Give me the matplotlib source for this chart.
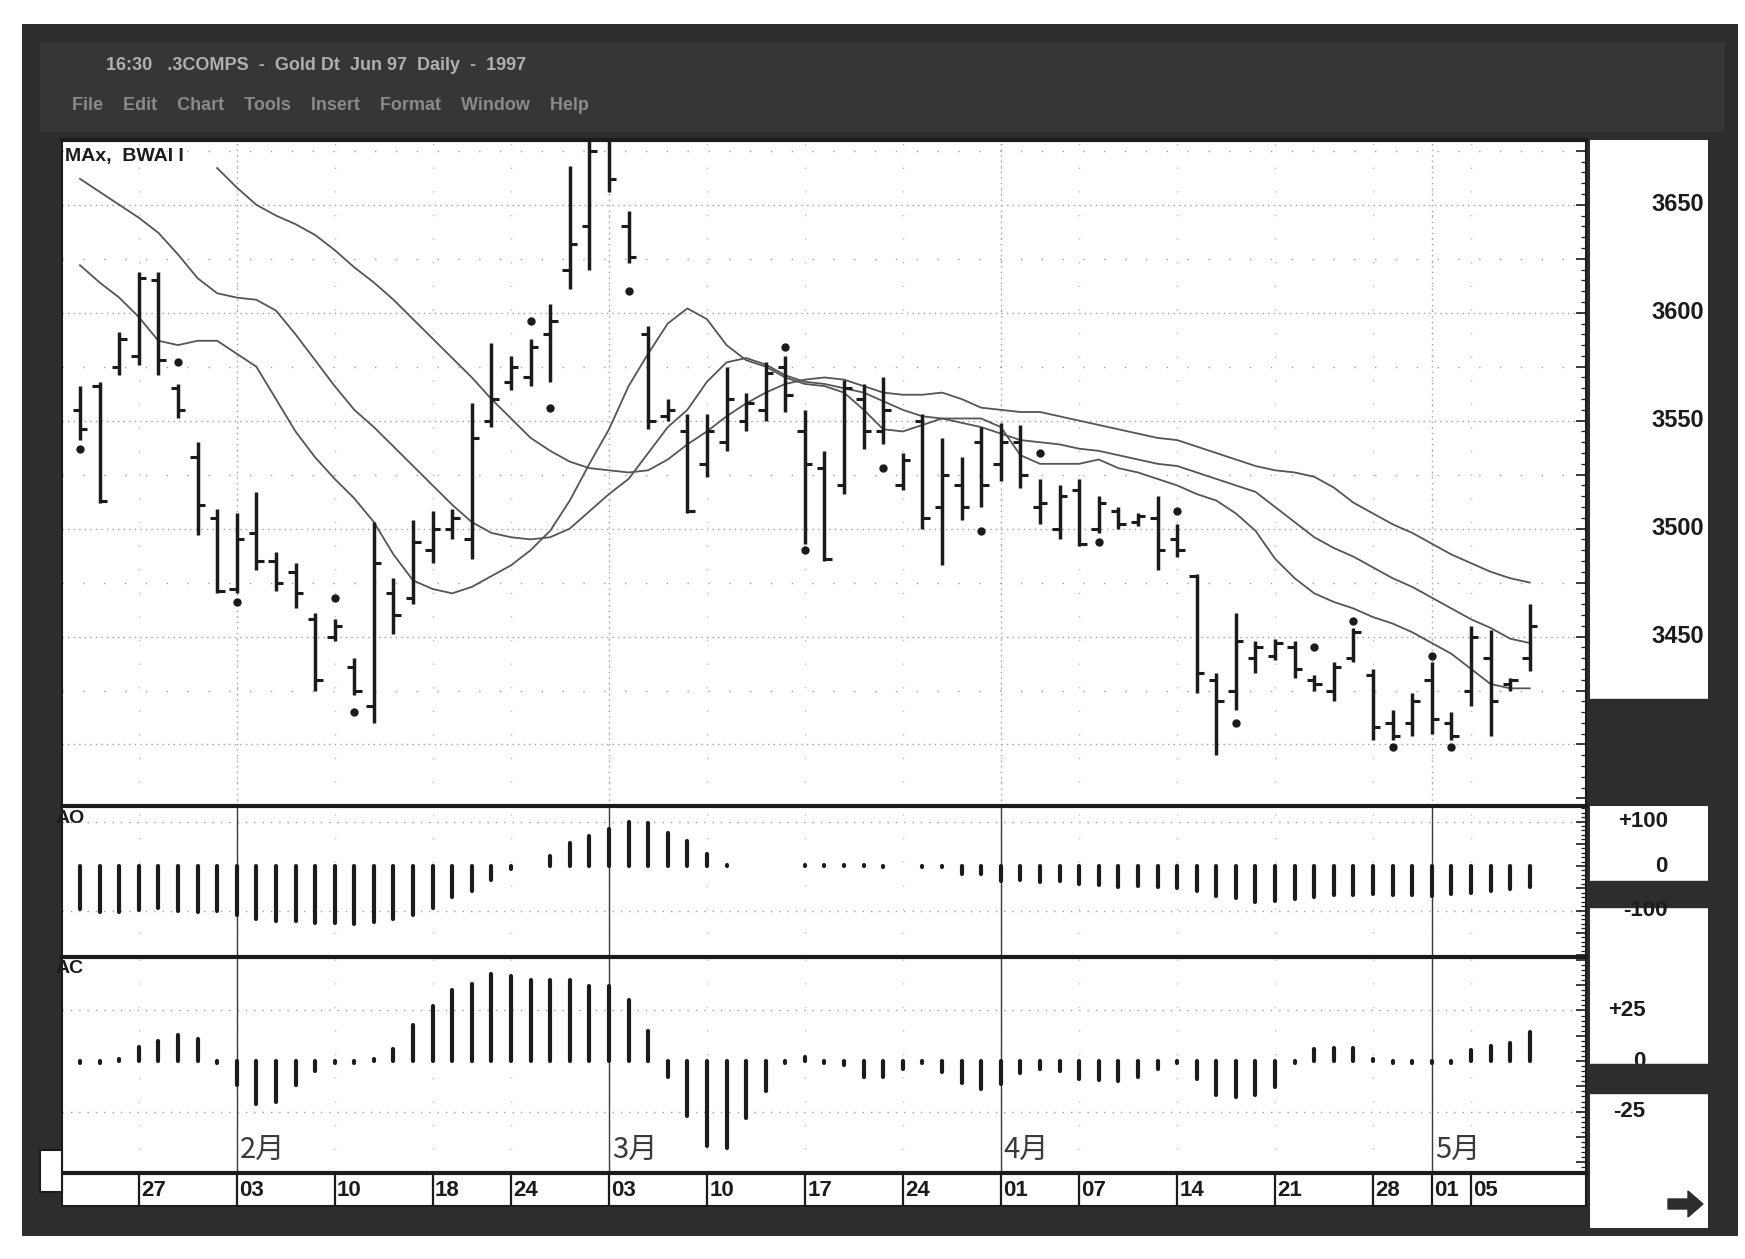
import numpy as np
import matplotlib
matplotlib.use("Agg")
import matplotlib.pyplot as plt
from matplotlib.patches import Rectangle, FancyArrow
from matplotlib.ticker import MultipleLocator, NullFormatter

# ---- values (gold, daily bars) ----
high = [3566, 3568, 3591, 3619, 3619, 3567, 3540, 3509, 3507, 3517,
        3489, 3484, 3461, 3458, 3440, 3503, 3477, 3504, 3508, 3509,
        3558, 3586, 3580, 3588, 3604, 3668, 3685, 3685, 3647, 3594,
        3560, 3553, 3553, 3575, 3563, 3577, 3580, 3555, 3536, 3569,
        3567, 3570, 3535, 3553, 3542, 3533, 3547, 3549, 3548, 3523,
        3520, 3523, 3515, 3510, 3507, 3515, 3502, 3479, 3433, 3461,
        3448, 3449, 3448, 3432, 3438, 3454, 3435, 3416, 3424, 3438,
        3415, 3455, 3453, 3431, 3465]
low = [3541, 3512, 3571, 3576, 3571, 3551, 3497, 3470, 3470, 3481,
       3471, 3463, 3425, 3448, 3423, 3410, 3451, 3465, 3484, 3495,
       3486, 3547, 3564, 3566, 3568, 3611, 3620, 3656, 3623, 3546,
       3550, 3507, 3524, 3536, 3545, 3550, 3554, 3493, 3485, 3516,
       3537, 3539, 3518, 3500, 3483, 3504, 3510, 3522, 3519, 3502,
       3495, 3492, 3498, 3500, 3501, 3481, 3487, 3424, 3395, 3416,
       3433, 3439, 3431, 3425, 3420, 3438, 3402, 3402, 3404, 3405,
       3402, 3418, 3404, 3425, 3434]
opn = [3555, 3566, 3575, 3580, 3615, 3565, 3533, 3505, 3472, 3498,
       3485, 3480, 3458, 3450, 3436, 3418, 3470, 3468, 3490, 3500,
       3495, 3550, 3568, 3570, 3590, 3620, 3640, 3680, 3640, 3590,
       3552, 3545, 3530, 3540, 3550, 3555, 3575, 3545, 3528, 3520,
       3560, 3545, 3520, 3550, 3510, 3520, 3540, 3530, 3540, 3510,
       3500, 3518, 3500, 3508, 3503, 3505, 3495, 3478, 3430, 3425,
       3440, 3441, 3445, 3430, 3425, 3440, 3432, 3410, 3410, 3430,
       3410, 3425, 3440, 3428, 3440]
cls = [3546, 3513, 3588, 3616, 3578, 3555, 3511, 3471, 3495, 3485,
       3475, 3470, 3430, 3455, 3425, 3484, 3460, 3494, 3500, 3505,
       3542, 3560, 3575, 3584, 3596, 3632, 3675, 3662, 3626, 3550,
       3555, 3508, 3545, 3560, 3558, 3572, 3562, 3530, 3486, 3565,
       3545, 3555, 3532, 3505, 3525, 3510, 3520, 3540, 3525, 3512,
       3515, 3493, 3512, 3502, 3506, 3490, 3490, 3433, 3420, 3448,
       3445, 3447, 3435, 3428, 3436, 3452, 3408, 3404, 3420, 3412,
       3404, 3450, 3420, 3430, 3455]

# alligator lines (jaw starts later than the other two)
jaw_start = 7
jaw = [3667, 3658, 3650, 3645, 3641, 3636, 3629, 3621, 3614, 3606,
       3597, 3588, 3579, 3570, 3560, 3551, 3542, 3536, 3531, 3528,
       3527, 3526, 3527, 3532, 3539, 3545, 3552, 3558, 3563, 3567,
       3569, 3570, 3569, 3566, 3563, 3562, 3562, 3563, 3560, 3556,
       3555, 3554, 3554, 3552, 3550, 3548, 3546, 3544, 3542, 3541,
       3538, 3535, 3532, 3529, 3527, 3526, 3524, 3519, 3512, 3507,
       3502, 3498, 3493, 3488, 3484, 3480, 3477, 3475]
teeth = [3662, 3656, 3650, 3644, 3637, 3627, 3616, 3609, 3607, 3606,
         3601, 3590, 3578, 3566, 3555, 3547, 3538, 3529, 3520, 3511,
         3503, 3498, 3496, 3495, 3496, 3500, 3508, 3516, 3523, 3535,
         3547, 3555, 3568, 3577, 3579, 3576, 3571, 3568, 3567, 3565,
         3563, 3559, 3555, 3552, 3551, 3549, 3547, 3544, 3541, 3540,
         3539, 3537, 3536, 3534, 3532, 3530, 3529, 3526, 3523, 3520,
         3517, 3510, 3503, 3496, 3491, 3487, 3482, 3477, 3473, 3468,
         3463, 3458, 3454, 3449, 3447]
lips = [3622, 3614, 3607, 3598, 3587, 3585, 3587, 3587, 3581, 3575,
        3560, 3545, 3533, 3523, 3514, 3503, 3488, 3476, 3472, 3470,
        3473, 3478, 3483, 3490, 3499, 3513, 3530, 3546, 3566, 3581,
        3595, 3602, 3597, 3585, 3578, 3575, 3570, 3567, 3566, 3563,
        3555, 3546, 3545, 3548, 3551, 3551, 3551, 3547, 3534, 3530,
        3530, 3530, 3532, 3528, 3526, 3523, 3520, 3516, 3513, 3507,
        3499, 3486, 3477, 3470, 3466, 3463, 3459, 3456, 3452, 3447,
        3442, 3435, 3428, 3426, 3426]

# fractal dots
frac_idx = [0, 5, 8, 13, 14, 23, 24, 28, 36, 37, 41, 46, 49, 52, 56, 59, 63, 65, 67, 69, 70]
frac_px = [3537, 3577, 3466, 3468, 3415, 3596, 3556, 3610, 3584, 3490, 3528, 3499,
           3535, 3494, 3508, 3410, 3445, 3457, 3399, 3441, 3399]

ao = [-97, -103, -103, -98, -94, -101, -104, -100, -111, -118,
      -124, -124, -127, -127, -130, -125, -118, -109, -94, -70,
      -55, -32, -7, 1, 22, 52, 68, 84, 100, 97,
      74, 56, 27, 2, -1, 1, 1, 2, 3, 2,
      2, -2, -1, -2, -3, -17, -19, -34, -32, -35,
      -34, -40, -43, -46, -45, -48, -50, -57, -67, -71,
      -80, -79, -75, -70, -65, -64, -63, -66, -64, -67,
      -63, -61, -57, -52, -47]
ac = [-1, -1, 1, 7, 10, 13, 11, -1, -12, -21,
      -20, -12, -5, -1, -1, 1, 6, 18, 27, 35,
      38, 43, 42, 40, 40, 40, 37, 37, 30, 15,
      -8, -27, -42, -43, -28, -15, -1, 2, -1, -2,
      -8, -8, -4, -1, -5.5, -11, -14, -11.5, -6, -4,
      -5, -9, -9.5, -10, -8, -4, -1, -9, -17, -18,
      -17, -13, -1, 6, 6.5, 6.5, 1, -1, -1, -1,
      -1, 5.5, 7.5, 9, 14.5]

date_idx = [3, 8, 13, 18, 22, 27, 32, 37, 42, 47, 51, 56, 61, 66, 69, 71]
date_lbl = ["27", "03", "10", "18", "24", "03", "10", "17", "24",
            "01", "07", "14", "21", "28", "01", "05"]
month_idx = [8, 27, 47, 69]
month_lbl = ["2月", "3月", "4月", "5月"]

price_ticks = [3650, 3600, 3550, 3500, 3450]
ao_ticks = [100, 0, -100]
ao_tick_lbl = ["+100", "0", "-100"]
ac_ticks = [25, 0, -25]
ac_tick_lbl = ["+25", "0", "-25"]

# ---- drawing ----
W, H, DPI = 1745, 1259, 100
INK = "#1b1b1b"
DARK = "#2d2d2d"
LINE = "#555555"
GRID = "#a0a0a0"
CJK = ["Noto Sans CJK SC", "DejaVu Sans"]
NUM = ["Liberation Sans", "DejaVu Sans"]

bar_idx = np.arange(len(high))
XL = (-0.92, 76.87)


def box(x0, y0, x1, y1):
    return [x0 / W, 1 - y1 / H, (x1 - x0) / W, (y1 - y0) / H]


fig = plt.figure(figsize=(W / DPI, H / DPI), dpi=DPI)
fig.patch.set_facecolor("white")


def frect(x0, y0, x1, y1, z=-5, **kw):
    fig.add_artist(Rectangle((x0 / W, 1 - y1 / H), (x1 - x0) / W, (y1 - y0) / H,
                             transform=fig.transFigure, zorder=z, **kw))


# window frame and title bar (behind the axes)
frect(22, 24, 1738, 1236, facecolor=DARK, edgecolor="none", z=-10)
frect(40, 42, 1725, 132, facecolor="#363636", edgecolor="none", z=-9)
fig.text(106 / W, 1 - 66 / H, "16:30   .3COMPS  -  Gold Dt  Jun 97  Daily  -  1997",
         color="#b0b0b0", fontsize=13, fontweight="bold", va="center", family=NUM)
fig.text(72 / W, 1 - 106 / H,
         "File    Edit    Chart    Tools    Insert    Format    Window    Help",
         color="#8a8a8a", fontsize=13, fontweight="bold", va="center", family=NUM)

LEFT, RIGHT = 62, 1586
ax_p = fig.add_axes(box(LEFT, 140, RIGHT, 806))
ax_ao = fig.add_axes(box(LEFT, 806, RIGHT, 957))
ax_ac = fig.add_axes(box(LEFT, 957, RIGHT, 1173))
ax_d = fig.add_axes(box(LEFT, 1173, RIGHT, 1206))


def ruler(ax, major, minor):
    ax.set_facecolor("white")
    ax.set_xlim(*XL)
    ax.set_xticks([])
    ax.yaxis.tick_right()
    ax.yaxis.set_major_locator(MultipleLocator(major))
    ax.yaxis.set_minor_locator(MultipleLocator(minor))
    ax.yaxis.set_major_formatter(NullFormatter())
    ax.tick_params(axis="y", which="major", direction="in", length=7, width=1.2, colors=INK)
    ax.tick_params(axis="y", which="minor", direction="in", length=3.5, width=0.9, colors=INK)
    for s in ax.spines.values():
        s.set_color(INK)
        s.set_linewidth(1.5)
    ax.spines["top"].set_linewidth(3)


# price panel
ax_p.set_ylim(3371.5, 3680)
ruler(ax_p, 25, 5)
for lv in range(3400, 3680, 50):
    ax_p.axhline(lv, color=GRID, lw=1, ls=(0, (1, 3)), zorder=0)
    ax_p.axhline(lv + 25, color=GRID, lw=1, ls=(0, (1, 14)), zorder=0)
for d in date_idx:
    ax_p.axvline(d, color="#bdbdbd", lw=1, ls=(0, (1, 16)), zorder=0)
for m in month_idx:
    ax_p.axvline(m, color=GRID, lw=1, ls=(0, (1, 3)), zorder=0)

ax_p.plot(np.arange(jaw_start, jaw_start + len(jaw)), jaw, color=LINE, lw=1.3, zorder=2)
ax_p.plot(bar_idx, teeth, color=LINE, lw=1.3, zorder=2)
ax_p.plot(bar_idx, lips, color=LINE, lw=1.3, zorder=2)

ax_p.vlines(bar_idx, low, high, color=INK, lw=2.5, zorder=3)
ax_p.hlines(opn, bar_idx - 0.38, bar_idx, color=INK, lw=2.2, zorder=3)
ax_p.hlines(cls, bar_idx, bar_idx + 0.38, color=INK, lw=2.2, zorder=3)
ax_p.plot(frac_idx, frac_px, "o", ms=5, color=INK, zorder=4)
ax_p.text(0.002, 0.988, "MAx,  BWAI I", transform=ax_p.transAxes, ha="left", va="top",
          fontsize=14, fontweight="bold", color=INK, family=NUM)

# AO panel
ax_ao.set_ylim(-204.5, 135)
ruler(ax_ao, 50, 10)
for lv in (-100, 100):
    ax_ao.axhline(lv, color=GRID, lw=1, ls=(0, (1, 5)), zorder=0)
for d in date_idx:
    ax_ao.axvline(d, color="#c4c4c4", lw=1, ls=(0, (1, 16)), zorder=0)
for m in month_idx:
    ax_ao.axvline(m, color="#3a3a3a", lw=1, zorder=1)
ax_ao.vlines(bar_idx, 0, ao, color=INK, lw=3, capstyle="round", zorder=3)
ax_ao.text(-0.004, 0.975, "AO", transform=ax_ao.transAxes, ha="left", va="top",
           fontsize=14, fontweight="bold", color=INK, family=NUM)

# AC panel
ax_ac.set_ylim(-55.3, 51.4)
ruler(ax_ac, 12.5, 2.5)
for lv in (-25, 25):
    ax_ac.axhline(lv, color=GRID, lw=1, ls=(0, (1, 5)), zorder=0)
for d in date_idx:
    ax_ac.axvline(d, color="#c4c4c4", lw=1, ls=(0, (1, 16)), zorder=0)
for m in month_idx:
    ax_ac.axvline(m, color="#3a3a3a", lw=1, zorder=1)
ax_ac.vlines(bar_idx, 0, ac, color=INK, lw=3, capstyle="round", zorder=3)
ax_ac.text(-0.004, 0.985, "AC", transform=ax_ac.transAxes, ha="left", va="top",
           fontsize=14, fontweight="bold", color=INK, family=NUM)
for m, lbl in zip(month_idx, month_lbl):
    ax_ac.text(m + 0.15, 0.04, lbl, transform=ax_ac.get_xaxis_transform(),
               ha="left", va="bottom", fontsize=21, color="#3a3a3a", family=CJK)

# date strip
ax_d.set_xlim(*XL)
ax_d.set_ylim(0, 1)
ax_d.set_xticks([])
ax_d.set_yticks([])
for s in ax_d.spines.values():
    s.set_color(INK)
    s.set_linewidth(1.5)
ax_d.spines["top"].set_linewidth(3)
ax_d.vlines(date_idx, 0, 1, color=INK, lw=1.6)
for d, lbl in zip(date_idx, date_lbl):
    ax_d.text(d + 0.12, 0.46, lbl, ha="left", va="center", fontsize=16,
              fontweight="bold", color=INK, family=NUM)

# right-hand scale columns
ax_pl = fig.add_axes(box(1590, 140, 1708, 806))
ax_pl.set_ylim(ax_p.get_ylim())
ax_pl.set_xlim(0, 1)
ax_pl.axis("off")
ax_pl.add_patch(Rectangle((0, 0), 1, 1, transform=ax_pl.transAxes, color="white", zorder=0))
ax_pl.add_patch(Rectangle((0, 0), 1, 0.16, transform=ax_pl.transAxes, color=DARK, zorder=1))
for v in price_ticks:
    ax_pl.text(0.97, v, str(v), ha="right", va="center", fontsize=17,
               fontweight="bold", color=INK, family=NUM, zorder=2)

ax_aol = fig.add_axes(box(1590, 806, 1708, 957))
ax_aol.set_ylim(ax_ao.get_ylim())
ax_aol.set_xlim(0, 1)
ax_aol.axis("off")
ax_aol.add_patch(Rectangle((0, 0), 1, 1, transform=ax_aol.transAxes, color="white", zorder=0))
ax_aol.add_patch(Rectangle((0, -92), 1, 58, color=DARK, zorder=1))
for v, lbl in zip(ao_ticks, ao_tick_lbl):
    ax_aol.text(0.66, v, lbl, ha="right", va="center", fontsize=16,
                fontweight="bold", color=INK, family=NUM, zorder=2)

ax_acl = fig.add_axes(box(1590, 957, 1708, 1173))
ax_acl.set_ylim(ax_ac.get_ylim())
ax_acl.set_xlim(0, 1)
ax_acl.axis("off")
ax_acl.add_patch(Rectangle((0, 0), 1, 1, transform=ax_acl.transAxes, color="white", zorder=0))
ax_acl.add_patch(Rectangle((0, -16), 1, 14.5, color=DARK, zorder=3))
for v, lbl in zip(ac_ticks, ac_tick_lbl):
    ax_acl.text(0.47, v, lbl, ha="right", va="center", fontsize=16,
                fontweight="bold", color=INK, family=NUM, zorder=2)

# lower-right corner with scroll arrow, lower-left scroll box
frect(1590, 1173, 1708, 1228, facecolor="white", edgecolor="none", z=-8)
fig.add_artist(FancyArrow(1668 / W, 1 - 1204 / H, 20 / W, 0, width=10 / H,
                          head_width=26 / H, head_length=15 / W,
                          length_includes_head=False, transform=fig.transFigure,
                          color=DARK, zorder=5))
frect(40, 1150, 62, 1192, facecolor="white", edgecolor=INK, lw=1.5, z=5)

fig.savefig("out.png", dpi=DPI)
